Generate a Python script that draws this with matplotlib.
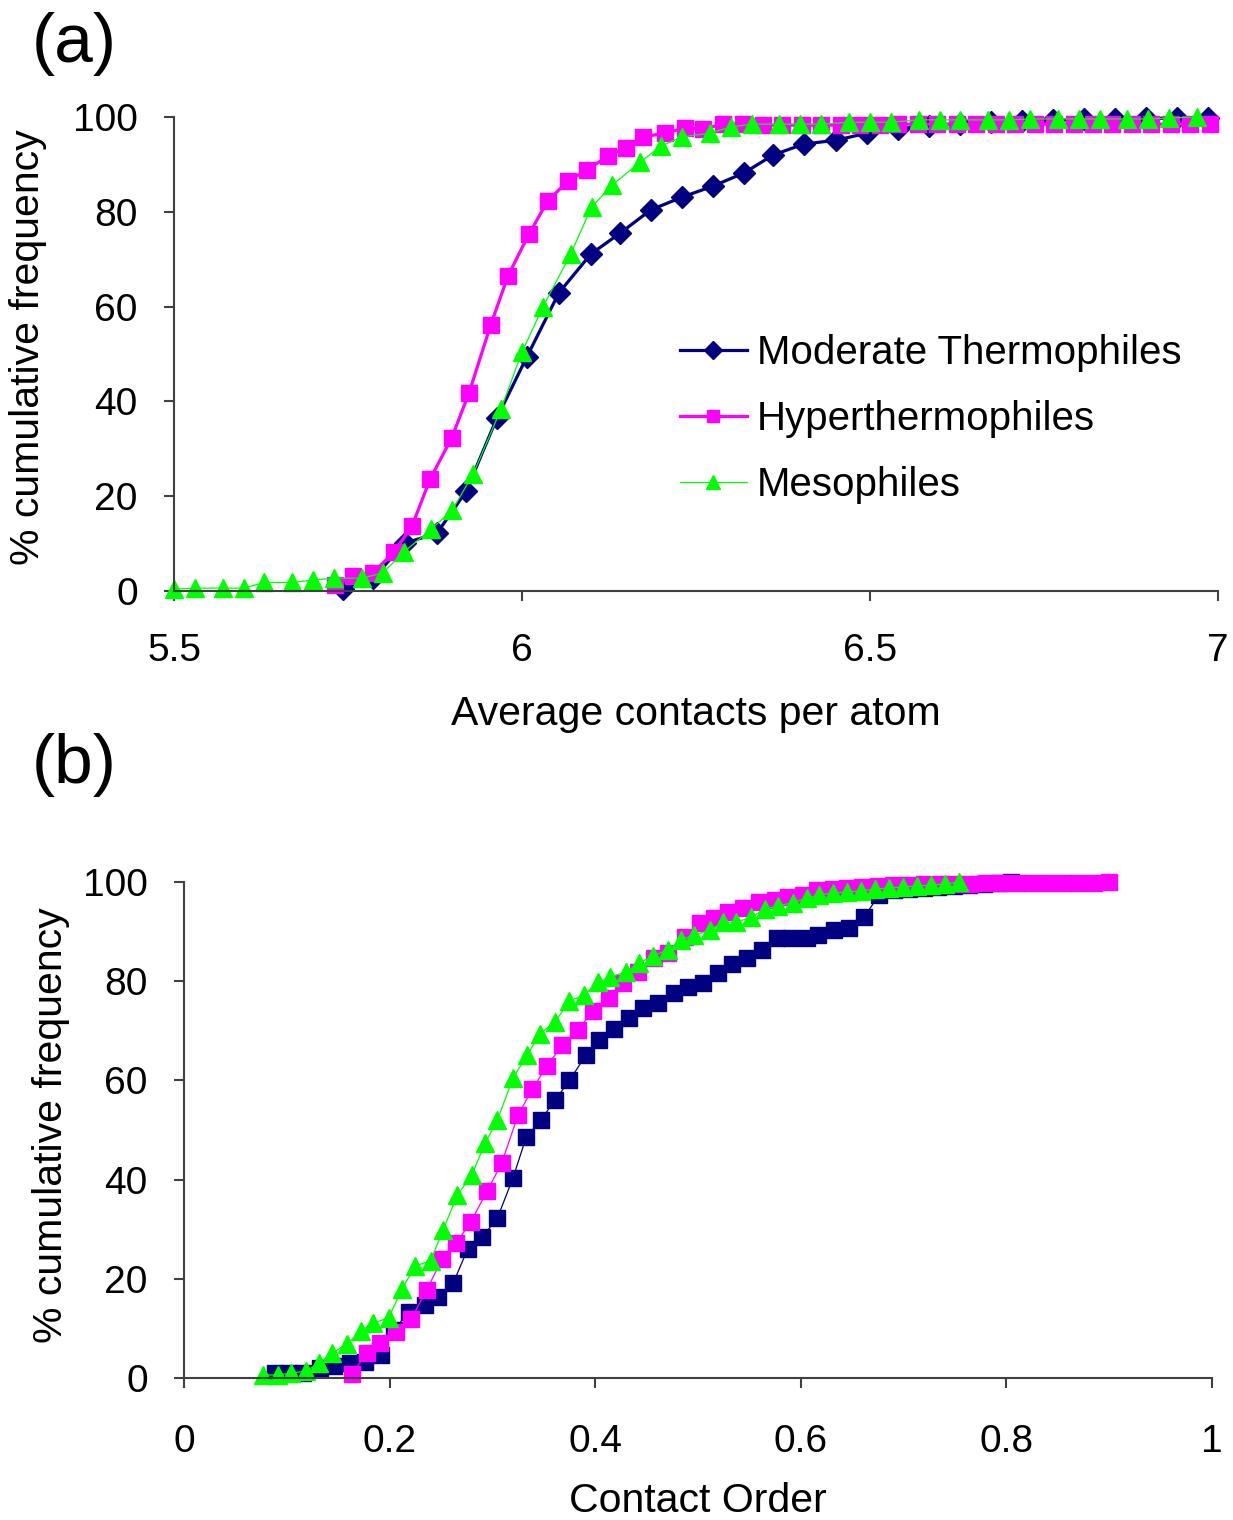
import matplotlib
matplotlib.use("Agg")
import matplotlib.pyplot as plt

plt.rcParams["font.family"] = ["Liberation Sans", "DejaVu Sans"]

# (a) average contacts per atom
mod_a_x = [5.743, 5.786, 5.832, 5.878, 5.920, 5.964, 6.007, 6.053, 6.099, 6.141,
           6.185, 6.230, 6.274, 6.319, 6.361, 6.405, 6.451, 6.496, 6.540, 6.585,
           6.629, 6.674, 6.718, 6.763, 6.807, 6.852, 6.896, 6.941, 6.985]
mod_a_y = [0.4, 2.7, 10.1, 12.2, 21.1, 36.5, 49.4, 62.9, 71.1, 75.5,
           80.4, 83.1, 85.4, 88.2, 92.0, 94.3, 95.1, 96.6, 97.5, 98.2,
           98.6, 99.0, 99.2, 99.3, 99.5, 99.6, 99.7, 99.8, 99.8]

hyp_a_x = [5.731, 5.757, 5.786, 5.816, 5.842, 5.868, 5.899, 5.924, 5.955, 5.980,
           6.010, 6.037, 6.066, 6.093, 6.124, 6.149, 6.174, 6.205, 6.234, 6.260,
           6.289, 6.318, 6.346, 6.374, 6.402, 6.430, 6.458, 6.486, 6.514, 6.541,
           6.569, 6.597, 6.625, 6.653, 6.681, 6.709, 6.737, 6.765, 6.793, 6.821,
           6.848, 6.876, 6.904, 6.932, 6.960, 6.988]
hyp_a_y = [1.3, 3.2, 3.8, 8.2, 13.7, 23.6, 32.3, 41.8, 56.1, 66.5,
           75.3, 82.3, 86.5, 88.8, 91.8, 93.5, 95.8, 96.6, 97.7, 97.5,
           98.5, 98.5, 98.3, 98.3, 98.3, 98.3, 98.3, 98.3, 98.3, 98.5,
           98.5, 98.5, 98.5, 98.5, 98.5, 98.5, 98.5, 98.5, 98.5, 98.5,
           98.5, 98.5, 98.5, 98.5, 98.5, 98.5]

mes_a_x = [5.50, 5.53, 5.57, 5.60, 5.63, 5.67, 5.70, 5.73, 5.77, 5.80,
           5.83, 5.87, 5.90, 5.93, 5.97, 6.00, 6.03, 6.07, 6.10, 6.13,
           6.17, 6.20, 6.23, 6.27, 6.30, 6.33, 6.37, 6.40, 6.43, 6.47,
           6.50, 6.53, 6.57, 6.60, 6.63, 6.67, 6.70, 6.73, 6.77, 6.80,
           6.83, 6.87, 6.90, 6.93, 6.97]
mes_a_y = [0.4, 0.6, 0.6, 0.6, 1.8, 1.8, 2.3, 2.7, 2.7, 3.8,
           8.2, 13.1, 17.1, 24.7, 38.4, 50.4, 59.9, 71.1, 81.0, 85.7,
           90.5, 93.9, 95.8, 96.6, 97.9, 98.5, 98.5, 98.5, 98.5, 98.9,
           98.9, 98.9, 99.4, 99.4, 99.4, 99.4, 99.4, 99.6, 99.6, 99.6,
           99.6, 99.6, 99.6, 99.8, 100.0]

# (b) contact order
mod_b_x = [0.089, 0.102, 0.116, 0.132, 0.146, 0.162, 0.176, 0.192, 0.204, 0.219,
           0.234, 0.247, 0.262, 0.276, 0.290, 0.305, 0.320, 0.333, 0.347, 0.361,
           0.375, 0.391, 0.404, 0.418, 0.433, 0.447, 0.461, 0.477, 0.490, 0.505,
           0.520, 0.533, 0.548, 0.562, 0.577, 0.591, 0.606, 0.617, 0.632, 0.647,
           0.662, 0.676, 0.691, 0.705, 0.720, 0.734, 0.749, 0.764, 0.778, 0.793,
           0.805]
mod_b_y = [1.0, 1.0, 1.0, 2.0, 2.4, 3.0, 3.2, 4.6, 9.7, 13.3,
           14.7, 16.3, 19.2, 26.0, 28.4, 32.3, 40.3, 48.6, 52.0, 56.0,
           60.0, 65.1, 68.1, 70.4, 72.6, 74.6, 75.6, 77.6, 78.8, 79.6,
           81.7, 83.5, 84.7, 86.3, 88.7, 88.7, 88.7, 89.3, 90.3, 90.7,
           93.0, 97.4, 98.4, 98.6, 98.8, 99.0, 99.2, 99.4, 99.6, 99.8,
           100.0]

hyp_b_x = [0.163, 0.178, 0.191, 0.206, 0.221, 0.236, 0.251, 0.265, 0.279, 0.295,
           0.309, 0.325, 0.339, 0.353, 0.368, 0.383, 0.398, 0.413, 0.427, 0.442,
           0.457, 0.471, 0.487, 0.502, 0.516, 0.529, 0.544, 0.559, 0.575, 0.588,
           0.602, 0.616, 0.631, 0.645, 0.660, 0.675, 0.690, 0.705, 0.720, 0.735,
           0.750, 0.765, 0.780, 0.795, 0.810, 0.825, 0.840, 0.855, 0.870, 0.885,
           0.900]
hyp_b_y = [0.8, 5.0, 7.1, 9.3, 11.9, 17.7, 24.0, 27.2, 31.5, 37.7,
           43.3, 53.0, 58.3, 62.9, 67.1, 70.2, 74.0, 76.6, 79.6, 81.9,
           84.7, 85.7, 88.9, 91.7, 92.7, 94.0, 94.8, 96.0, 96.4, 97.0,
           97.4, 98.4, 98.6, 98.8, 99.0, 99.2, 99.4, 99.4, 99.6, 99.6,
           99.6, 99.6, 99.8, 99.8, 99.8, 99.8, 99.8, 99.8, 99.8, 99.8,
           100.0]

mes_b_x = [0.077, 0.091, 0.104, 0.119, 0.131, 0.144, 0.159, 0.172, 0.184, 0.199,
           0.212, 0.225, 0.240, 0.252, 0.266, 0.280, 0.293, 0.305, 0.320, 0.334,
           0.346, 0.361, 0.375, 0.389, 0.403, 0.414, 0.430, 0.443, 0.456, 0.471,
           0.484, 0.496, 0.512, 0.524, 0.537, 0.552, 0.565, 0.578, 0.592, 0.606,
           0.618, 0.631, 0.645, 0.659, 0.672, 0.686, 0.699, 0.713, 0.727, 0.740,
           0.754]
mes_b_y = [0.6, 0.6, 1.0, 1.4, 3.0, 5.0, 6.9, 9.5, 11.1, 12.1,
           17.9, 22.6, 23.6, 29.8, 36.9, 40.9, 47.4, 52.0, 60.5, 65.1,
           69.4, 71.8, 76.0, 77.2, 79.8, 80.8, 81.9, 83.7, 85.1, 86.3,
           88.3, 89.3, 90.3, 91.9, 91.9, 92.9, 94.6, 95.2, 95.8, 96.8,
           97.4, 97.8, 98.0, 98.2, 98.6, 98.8, 99.0, 99.2, 99.4, 99.6,
           100.0]

navy = "#000080"
pink = "#FF00FF"
green = "#00FF00"
tick_fs = 28
label_fs = 29.5

fig = plt.figure(figsize=(12.33, 15.2), dpi=100)
ax1 = fig.add_axes([0.1411, 0.6112, 0.8467, 0.3118])
ax2 = fig.add_axes([0.1492, 0.0934, 0.8337, 0.3263])


def style(ax, xpad, ypad):
    for s in ["top", "right"]:
        ax.spines[s].set_visible(False)
    for s in ["left", "bottom"]:
        ax.spines[s].set_color("#404040")
        ax.spines[s].set_linewidth(1.5)
    ax.tick_params(axis="both", direction="out", length=7, width=1.5,
                   color="#404040", labelsize=tick_fs)
    ax.tick_params(axis="x", pad=xpad)
    ax.tick_params(axis="y", pad=ypad)
    ax.set_ylim(0, 100)
    ax.set_yticks([0, 20, 40, 60, 80, 100])


ax1.plot(mod_a_x, mod_a_y, color=navy, lw=2.3, marker="D", ms=11,
         clip_on=False, label="Moderate Thermophiles")
ax1.plot(hyp_a_x, hyp_a_y, color=pink, lw=2.3, marker="s", ms=11,
         clip_on=False, label="Hyperthermophiles")
ax1.plot(mes_a_x, mes_a_y, color=green, lw=0.9, marker="^", ms=13,
         clip_on=False, label="Mesophiles")
ax1.set_xlim(5.5, 7)
ax1.set_xticks([5.5, 6, 6.5, 7])
ax1.set_xticklabels(["5.5", "6", "6.5", "7"])
style(ax1, 23, 19)
ax1.set_xlabel("Average contacts per atom", fontsize=label_fs, labelpad=19)
ax1.set_ylabel("% cumulative frequency", fontsize=label_fs)
ax1.yaxis.set_label_coords(-0.122, 0.515)
ax1.legend(loc="upper left", bbox_to_anchor=(0.469, 0.576), frameon=False,
           fontsize=29, handlelength=1.66, handletextpad=0.25,
           labelspacing=0.7, borderaxespad=0, markerscale=0.8)

ax2.plot(mod_b_x, mod_b_y, color=navy, lw=0.9, marker="s", ms=11,
         clip_on=False)
ax2.plot(hyp_b_x, hyp_b_y, color=pink, lw=0.9, marker="s", ms=11,
         clip_on=False)
ax2.plot(mes_b_x, mes_b_y, color=green, lw=0.9, marker="^", ms=13,
         clip_on=False)
ax2.set_xlim(0, 1)
ax2.set_xticks([0, 0.2, 0.4, 0.6, 0.8, 1])
ax2.set_xticklabels(["0", "0.2", "0.4", "0.6", "0.8", "1"])
style(ax2, 26, 19)
ax2.set_xlabel("Contact Order", fontsize=label_fs, labelpad=16)
ax2.set_ylabel("% cumulative frequency", fontsize=label_fs)
ax2.yaxis.set_label_coords(-0.111, 0.51)

fig.text(0.026, 0.971, "(a)", fontsize=50, va="center", ha="left")
fig.text(0.026, 0.497, "(b)", fontsize=50, va="center", ha="left")

fig.savefig("out.png", dpi=100)
